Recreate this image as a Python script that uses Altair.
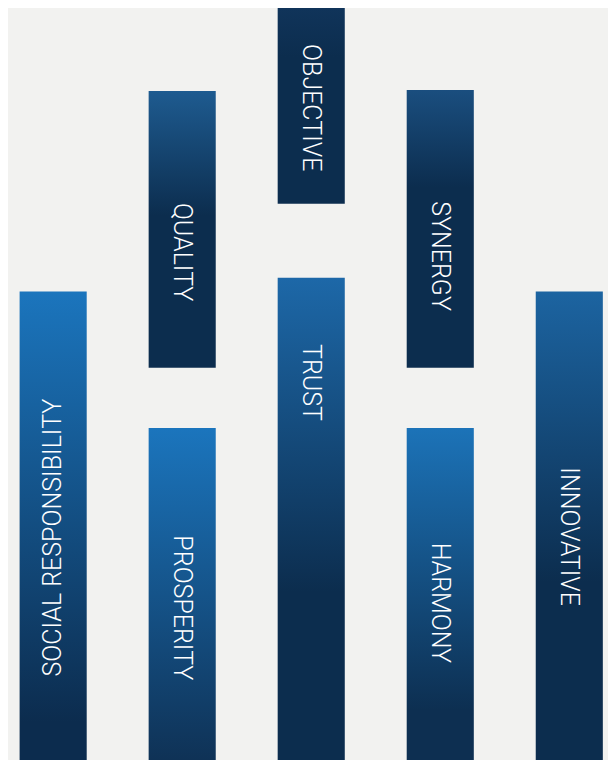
import altair as alt
import pandas as pd

# ---- data ----
labels = ["SOCIAL RESPONSIBILITY", "QUALITY", "PROSPERITY", "OBJECTIVE",
          "TRUST", "SYNERGY", "HARMONY", "INNOVATIVE"]
column = [1, 2, 2, 3, 3, 4, 4, 5]
bar_top = [474, 677, 336, 761, 488, 678, 336, 474]
bar_bottom = [0, 397, 0, 563, 0, 397, 0, 0]
label_at = [225, 514, 154, 660, 382, 510, 159, 226]
label_angle = [270, 90, 90, 90, 90, 90, 90, 90]

# ---- styles (same order as labels) ----
top_colors = ["#1b75bd", "#1e5b90", "#1b75bd", "#10345a",
              "#1d68a8", "#1a4e7f", "#1c73b8", "#1c64a1"]
dark_stop = [0.92, 0.45, 1.0, 0.25, 0.65, 0.35, 0.85, 0.62]
bottom_colors = ["#0c2c4e", "#0c2d4e", "#0f3256", "#0c2d4e",
                 "#0c2d4e", "#0c2d4e", "#0d2f51", "#0c2d4e"]

df = pd.DataFrame({
    "label": labels, "col": column, "top": bar_top, "bottom": bar_bottom,
    "label_at": label_at, "angle": label_angle,
})

xs = alt.Scale(domain=[0.65, 5.3], nice=False, zero=False)
ys = alt.Scale(domain=[0, 761], nice=False, zero=False)

base = alt.Chart(df).transform_calculate(
    x1="datum.col - 0.26", x2="datum.col + 0.26"
)

layers = []
for i, lab in enumerate(labels):
    grad = alt.Gradient(
        gradient="linear", x1=0, x2=0, y1=0, y2=1,
        stops=[alt.GradientStop(offset=0, color=top_colors[i]),
               alt.GradientStop(offset=dark_stop[i], color=bottom_colors[i]),
               alt.GradientStop(offset=1, color=bottom_colors[i])],
    )
    layers.append(
        base.transform_filter(alt.datum.label == lab).mark_rect(color=grad).encode(
            x=alt.X("x1:Q", scale=xs, axis=None),
            x2="x2:Q",
            y=alt.Y("top:Q", scale=ys, axis=None),
            y2="bottom:Q",
        )
    )

for ang in [90, 270]:
    layers.append(
        base.transform_filter(alt.datum.angle == ang).mark_text(
            angle=ang, align="center", baseline="middle",
            font="Roboto", fontSize=25, fontWeight=300, color="#ffffff",
        ).encode(
            x=alt.X("col:Q", scale=xs, axis=None),
            y=alt.Y("label_at:Q", scale=ys, axis=None),
            text="label:N",
        )
    )

chart = alt.layer(*layers).properties(
    width=600, height=752, background="#f2f2f0", padding=0,
    autosize=alt.AutoSizeParams(type="none"),
).configure_view(stroke=None)

chart.save("out.html", embed_options={"renderer": "svg", "actions": False})
